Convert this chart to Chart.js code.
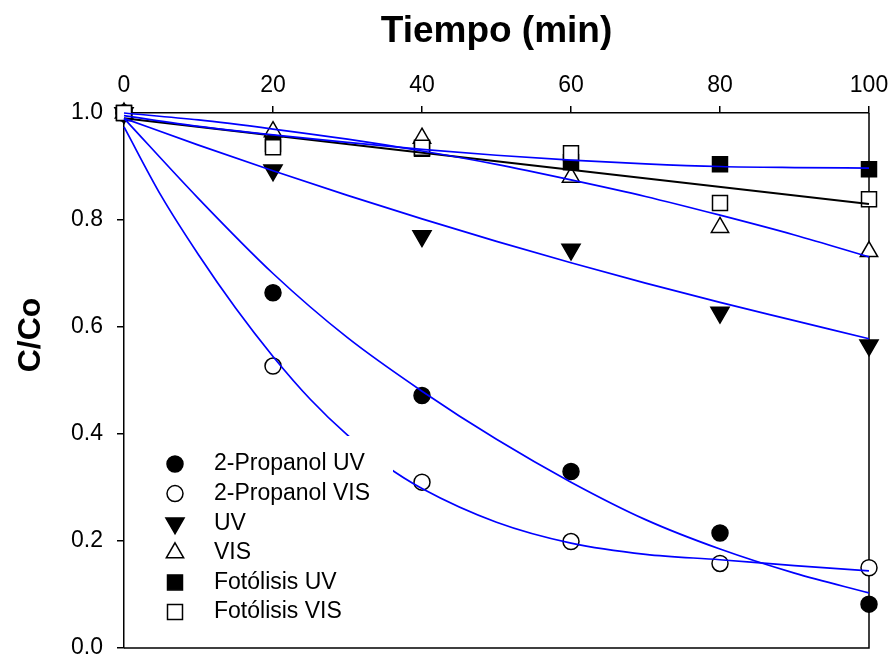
<!DOCTYPE html>
<html>
<head>
<meta charset="utf-8">
<script src="https://cdn.jsdelivr.net/npm/chart.js@4.4.0/dist/chart.umd.min.js"></script>
<style>
  body { margin: 0; background: #fff; }
</style>
</head>
<body>
<canvas id="grafica" width="893" height="661"></canvas>
<script>
// Tiempos de muestreo (min)
var tiempos = [0, 20, 40, 60, 80, 100];

// C/Co medido en cada ensayo
var propanolUV   = [1.0, 0.664, 0.472, 0.330, 0.215, 0.082];
var propanolVIS  = [1.0, 0.527, 0.310, 0.199, 0.158, 0.150];
var soloUV       = [1.0, 0.893, 0.770, 0.745, 0.627, 0.566];
var soloVIS      = [1.0, 0.965, 0.953, 0.880, 0.786, 0.741];
var fotolisisUV  = [1.0, 0.942, 0.933, 0.908, 0.904, 0.895];
var fotolisisVIS = [1.0, 0.936, 0.935, 0.925, 0.832, 0.839];

// Curvas de ajuste
var tiemposAjuste = [0, 10, 20, 30, 40, 50, 60, 70, 80, 90, 100];
var ajustePropanolUV = [0.99, 0.84, 0.70, 0.58, 0.48, 0.39, 0.31, 0.24, 0.185, 0.14, 0.103];
var ajusteUV = [0.99, 0.94, 0.892, 0.846, 0.802, 0.76, 0.72, 0.682, 0.646, 0.612, 0.578];
var ajusteVIS = [1.0, 0.987, 0.970, 0.951, 0.929, 0.904, 0.875, 0.844, 0.809, 0.772, 0.731];
var ajusteFotolisisUV = [0.995, 0.975, 0.959, 0.945, 0.932, 0.921, 0.912, 0.905, 0.900, 0.898, 0.897];

var tiemposAjuste2 = [0, 5, 10, 15, 20, 25, 30, 35, 40, 50, 60, 70, 80, 90, 100];
var ajustePropanolVIS = [0.974, 0.845, 0.735, 0.635, 0.545, 0.465, 0.398, 0.342, 0.298, 0.235, 0.196, 0.175, 0.165, 0.154, 0.144];

var tiemposRecta = [0, 100];
var ajusteFotolisisVIS = [0.99, 0.83];

// Marcas de los ejes
var marcasX = [0, 20, 40, 60, 80, 100];
var marcasY = [0, 0.2, 0.4, 0.6, 0.8, 1.0];

var fuente = '"Liberation Sans", Arial, Helvetica, sans-serif';

function puntos(xs, ys) {
  return xs.map(function (x, i) { return { x: x, y: ys[i] }; });
}

function serie(nombre, ys, estilo, relleno, rotacion, radio, orden) {
  return {
    label: nombre,
    data: puntos(tiempos, ys),
    pointStyle: estilo,
    pointRotation: rotacion,
    pointRadius: radio,
    pointBackgroundColor: relleno,
    pointBorderColor: '#000',
    pointBorderWidth: 1.5,
    showLine: false,
    clip: false,
    order: orden
  };
}

function curva(xs, ys, color, ancho) {
  return {
    type: 'line',
    label: '',
    data: puntos(xs, ys),
    borderColor: color,
    borderWidth: ancho,
    pointRadius: 0,
    fill: false,
    cubicInterpolationMode: 'monotone',
    clip: false,
    order: 0
  };
}

var series = [
  serie('2-Propanol UV', propanolUV, 'circle', '#000', 0, 8, 6),
  serie('2-Propanol VIS', propanolVIS, 'circle', '#fff', 0, 8, 5),
  serie('UV', soloUV, 'triangle', '#000', 180, 10.5, 4),
  serie('VIS', soloVIS, 'triangle', '#fff', 0, 10, 3),
  serie('Fotólisis UV', fotolisisUV, 'rect', '#000', 0, 10.6, 2),
  serie('Fotólisis VIS', fotolisisVIS, 'rect', '#fff', 0, 10.6, 1)
];

var curvas = [
  curva(tiemposAjuste, ajustePropanolUV, '#0000ff', 1.7),
  curva(tiemposAjuste2, ajustePropanolVIS, '#0000ff', 1.7),
  curva(tiemposAjuste, ajusteUV, '#0000ff', 1.7),
  curva(tiemposAjuste, ajusteVIS, '#0000ff', 1.7),
  curva(tiemposAjuste, ajusteFotolisisUV, '#0000ff', 1.7),
  curva(tiemposRecta, ajusteFotolisisVIS, '#000000', 2)
];

// Recuadro derecho e inferior del area de la grafica
var marco = {
  id: 'marco',
  beforeDatasetsDraw: function (chart) {
    var a = chart.chartArea, ctx = chart.ctx;
    ctx.save();
    ctx.strokeStyle = '#000';
    ctx.lineWidth = 1.5;
    ctx.beginPath();
    ctx.moveTo(a.left, a.bottom);
    ctx.lineTo(a.right, a.bottom);
    ctx.lineTo(a.right, a.top);
    ctx.stroke();
    ctx.restore();
  }
};

// Leyenda con fondo blanco dentro del area
var leyenda = {
  id: 'leyenda',
  afterDatasetsDraw: function (chart) {
    var ctx = chart.ctx;
    ctx.save();
    ctx.fillStyle = '#fff';
    ctx.fillRect(150, 436, 243, 196);
    ctx.font = '23px ' + fuente;
    ctx.textBaseline = 'middle';
    ctx.textAlign = 'left';
    series.forEach(function (ds, i) {
      var y = 464 + i * 29.6;
      ctx.fillStyle = ds.pointBackgroundColor;
      ctx.strokeStyle = '#000';
      ctx.lineWidth = 1.5;
      Chart.helpers.drawPoint(ctx, {
        pointStyle: ds.pointStyle,
        rotation: ds.pointRotation,
        radius: ds.pointRadius,
        borderWidth: 1.5
      }, 175, y);
      ctx.fillStyle = '#000';
      ctx.fillText(ds.label, 214, y);
    });
    ctx.restore();
  }
};

// Titulo del eje Y
var tituloY = {
  id: 'tituloY',
  afterDraw: function (chart) {
    var ctx = chart.ctx;
    ctx.save();
    ctx.translate(31, 335);
    ctx.rotate(-Math.PI / 2);
    ctx.font = 'bold 32px ' + fuente;
    ctx.fillStyle = '#000';
    ctx.textAlign = 'center';
    ctx.textBaseline = 'middle';
    ctx.fillText('C/Co', 0, 0);
    ctx.restore();
  }
};

var ctx = document.getElementById('grafica').getContext('2d');

var grafica = new Chart(ctx, {
  type: 'scatter',
  data: { datasets: curvas.concat(series) },
  options: {
    responsive: false,
    animation: false,
    layout: { padding: { top: 0, right: 24, bottom: 13, left: 0 } },
    plugins: {
      legend: { display: false },
      tooltip: { enabled: false }
    },
    scales: {
      x: {
        type: 'linear',
        position: 'top',
        min: 0,
        max: 100,
        afterFit: function (s) {
          s.height = 113;
          s.paddingLeft = 0;
          s.paddingRight = 0;
        },
        afterBuildTicks: function (s) {
          s.ticks = marcasX.map(function (v) { return { value: v }; });
        },
        title: {
          display: true,
          text: 'Tiempo (min)',
          color: '#000',
          font: { family: fuente, size: 37, weight: 'bold' },
          padding: { top: 10, bottom: 0 }
        },
        ticks: {
          color: '#000',
          font: { family: fuente, size: 23 },
          padding: 7,
          maxRotation: 0
        },
        grid: { drawOnChartArea: false, tickLength: 7, color: '#000', lineWidth: 1.5 },
        border: { color: '#000', width: 1.5 }
      },
      y: {
        type: 'linear',
        position: 'left',
        min: 0,
        max: 1,
        afterFit: function (s) {
          s.width = 124;
          s.paddingTop = 0;
          s.paddingBottom = 0;
        },
        afterBuildTicks: function (s) {
          s.ticks = marcasY.map(function (v) { return { value: v }; });
        },
        ticks: {
          color: '#000',
          font: { family: fuente, size: 23 },
          padding: 14,
          callback: function (v) { return v.toFixed(1); }
        },
        grid: { drawOnChartArea: false, tickLength: 7, color: '#000', lineWidth: 1.5 },
        border: { color: '#000', width: 1.5 }
      }
    }
  },
  plugins: [marco, leyenda, tituloY]
});
</script>
</body>
</html>
